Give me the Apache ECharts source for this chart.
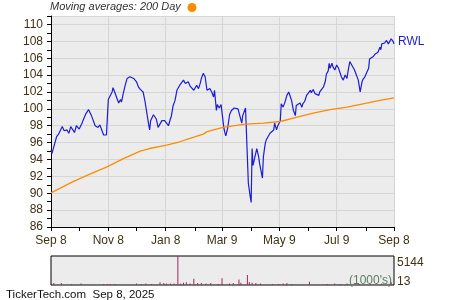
<!DOCTYPE html>
<html><head><meta charset="utf-8">
<script src="https://cdn.jsdelivr.net/npm/echarts@6/dist/echarts.min.js"></script>
<style>html,body{margin:0;padding:0;background:#fff}#c{width:450px;height:300px}</style>
</head><body><div id="c"></div>
<script>
// ---- data ----
const startDate = [2024, 8, 8]; // Sep 8, 2024 (first calendar day on axis)
const dayCount = 366;
const tickDates = ['2024-09-08','2024-10-08','2024-11-08','2024-12-08','2025-01-08','2025-02-08','2025-03-09','2025-04-09','2025-05-09','2025-06-09','2025-07-09','2025-08-09','2025-09-08'];
const labelDates = ['2024-09-08','2024-11-08','2025-01-08','2025-03-09','2025-05-09','2025-07-09','2025-09-08'];
const yTicks = {min: 86, max: 111, step: 2};

const priceDays = [0,1,4,6,8,10,12,14,17,19,21,23,25,27,30,33,34,37,38,40,43,45,47,49,50,52,54,56,57,59,
61,63,65,66,68,70,72,74,75,77,79,81,82,84,86,88,89,91,93,95,96,98,100,102,104,105,106,109,111,112,114,116,118,120,
121,123,125,127,128,130,132,134,136,137,139,141,143,144,146,148,150,152,153,155,157,159,160,162,164,166,167,169,171,
173,174,176,177,179,181,183,184,185,186,188,190,192,195,197,199,201,203,204,206,207,210,212,213,214,215,217,219,221,
222,223,225,226,228,229,231,233,235,237,238,240,241,244,245,247,249,251,253,254,256,258,260,261,263,265,267,268,270,
272,274,276,277,279,281,283,285,286,288,290,292,293,295,296,297,299,300,302,304,306,308,309,311,313,315,316,318,320,
322,323,325,327,329,331,332,334,336,338,339,341,343,345,347,348,350,351,352,354,355,357,359,361,362,364,365];
const priceValues = [95.1,94.7,95.9,96.7,97.0,97.0,97.9,97.4,97.5,97.1,97.9,97.7,97.2,98.0,97.6,98.3,98.6,99.4,99.5,99.9,99.2,98.6,98.0,98.2,97.8,98.1,97.5,96.9,97.0,96.9,
101.1,101.2,102.0,102.5,101.9,102.0,100.7,101.1,100.8,101.9,102.8,103.6,103.7,103.8,104.0,103.6,103.6,103.2,102.6,102.3,102.2,102.0,100.9,100.7,98.1,97.5,98.6,99.3,99.4,98.8,97.8,97.6,98.6,98.7,
98.6,98.5,98.0,98.8,99.1,100.4,101.0,102.2,102.4,102.8,103.0,103.4,103.0,102.9,103.2,102.7,102.9,102.2,102.3,102.8,102.4,103.1,103.6,104.2,103.8,102.2,102.0,102.4,102.0,
101.4,102.2,99.8,100.5,100.1,100.5,98.6,97.7,97.2,96.8,97.7,99.3,99.8,100.1,100.2,100.0,99.8,98.3,99.2,99.0,100.1,91.2,89.6,88.9,95.3,93.3,94.3,95.3,94.3,
93.5,93.7,91.8,94.3,95.9,96.3,96.5,97.1,97.2,97.5,98.3,97.5,97.9,98.6,100.6,100.2,100.8,101.6,102.0,102.0,101.0,99.8,99.2,100.4,100.2,100.7,100.2,100.6,100.9,
101.6,101.5,102.2,101.9,102.3,101.8,102.0,101.6,102.0,102.2,102.6,103.3,104.1,104.5,105.4,104.8,105.4,105.0,104.6,105.2,104.8,104.6,103.8,103.4,104.0,103.6,104.4,105.6,105.2,
105.0,104.6,104.5,103.4,102.0,103.2,103.5,103.8,104.0,104.8,105.9,106.1,106.2,106.5,106.5,106.7,107.3,107.0,107.7,107.9,107.8,108.1,107.7,107.9,108.3,108.0,107.7];

const maDays = [0,24,42,59,77,95,105,123,137,148,162,166,183,201,208,226,244,261,279,297,315,332,350,365];
const maValues = [90.05,91.4,92.3,93.1,94.1,95.0,95.3,95.7,96.1,96.5,97.0,97.3,97.8,98.1,98.2,98.3,98.5,99.0,99.5,99.9,100.2,100.6,101.0,101.3];

const volDays = [3,11,22,32,56,60,63,68,91,96,101,107,116,120,123,127,131,135,138,141,144,148,152,156,160,165,170,178,182,190,194,200,202,209,211,214,218,223,236,242,247,251,256,275,294,302,308,315,328,340,352,362];
const volValues = [350,350,200,300,180,200,200,180,300,200,300,200,500,350,300,300,300,5144,300,400,500,300,1100,350,350,300,350,200,1200,300,350,1000,400,1800,550,400,350,300,200,200,300,350,200,600,200,300,200,300,200,200,300,500];
const volTickLabels = ['5144', '13'];
const volRange = [13, 5144];

const tickerName = 'RWL';
const titleText = 'Moving averages: 200 Day';
const footerText = 'TickerTech.com  Sep 8, 2025';
const unitText = "(1000's)";

// ---- build ----
const MONTHS = ['Jan','Feb','Mar','Apr','May','Jun','Jul','Aug','Sep','Oct','Nov','Dec'];
const t0 = Date.UTC(startDate[0], startDate[1], startDate[2]);
const cats = [];
for (let i = 0; i < dayCount; i++) {
  const d = new Date(t0 + i * 86400000);
  cats.push(d.getUTCFullYear() + '-' + String(d.getUTCMonth() + 1).padStart(2, '0') + '-' + String(d.getUTCDate()).padStart(2, '0'));
}
const tickSet = new Set(tickDates);
const labelSet = new Set(labelDates);
const fmt = s => MONTHS[+s.slice(5, 7) - 1] + ' ' + (+s.slice(8, 10));

const priceData = priceDays.map((d, i) => [d, priceValues[i]]);
const maData = maDays.map((d, i) => [d, maValues[i]]);
const volData = volDays.map((d, i) => [d, volValues[i]]);

const FONT = '"Liberation Sans", Arial, sans-serif';
const LABEL = '#3f3217';
const BG = '#ececec';
const GRIDC = '#d6d6d6';

const chart = echarts.init(document.getElementById('c'), null, {renderer: 'canvas'});
chart.setOption({
  animation: false,
  textStyle: {fontFamily: FONT},
  grid: [
    {left: 51, right: 56, top: 16, bottom: 73, show: true, backgroundColor: BG, borderWidth: 0},
    {left: 51, right: 56, top: 256, bottom: 15, show: true, backgroundColor: BG, borderColor: '#000', borderWidth: 1}
  ],
  xAxis: [
    {
      type: 'category', gridIndex: 0, data: cats, boundaryGap: false,
      axisLine: {lineStyle: {color: '#000', width: 1}},
      axisTick: {show: true, length: 4, lineStyle: {color: '#000'}, interval: (i, v) => tickSet.has(v)},
      axisLabel: {interval: (i, v) => labelSet.has(v), formatter: fmt, color: LABEL, fontSize: 12, margin: 8, fontFamily: FONT},
      splitLine: {show: true, interval: (i, v) => labelSet.has(v) && i > 0, lineStyle: {color: GRIDC, width: 1}}
    },
    {
      type: 'category', gridIndex: 1, data: cats, boundaryGap: false,
      axisLine: {show: false}, axisTick: {show: false}, axisLabel: {show: false}, splitLine: {show: false}
    }
  ],
  yAxis: [
    {
      type: 'value', gridIndex: 0, min: yTicks.min, max: yTicks.max, interval: yTicks.step,
      axisLine: {show: true, lineStyle: {color: '#000', width: 1}},
      axisTick: {show: true, length: 4, lineStyle: {color: '#000'}},
      minorTick: {show: true, splitNumber: 2, length: 4, lineStyle: {color: '#000'}},
      axisLabel: {color: LABEL, fontSize: 12, margin: 8, showMaxLabel: false, fontFamily: FONT},
      splitLine: {show: true, lineStyle: {color: GRIDC, width: 1}}
    },
    {
      type: 'value', gridIndex: 1, min: volRange[0], max: volRange[1],
      axisLine: {show: false}, axisTick: {show: false}, axisLabel: {show: false}, splitLine: {show: false}
    }
  ],
  series: [
    {type: 'bar', xAxisIndex: 1, yAxisIndex: 1, data: volData, barWidth: 1, itemStyle: {color: '#9e2a5c'}, clip: true},
    {type: 'line', xAxisIndex: 0, yAxisIndex: 0, data: priceData, showSymbol: false, lineStyle: {color: '#1c1cd9', width: 1.2}, z: 3},
    {type: 'line', xAxisIndex: 0, yAxisIndex: 0, data: maData, showSymbol: false, lineStyle: {color: '#ff8c00', width: 1.3}, z: 4}
  ],
  graphic: [
    {type: 'text', left: 50, top: 1, style: {text: titleText, font: 'italic 11px ' + FONT, fill: '#333'}},
    {type: 'circle', shape: {cx: 192, cy: 7.5, r: 4.5}, style: {fill: '#ff8c00'}},
    {type: 'text', x: 398, y: 42, style: {text: tickerName, font: '12px ' + FONT, fill: '#1c1cd9', verticalAlign: 'middle'}},
    {type: 'text', x: 397, y: 263, style: {text: volTickLabels[0], font: '12px ' + FONT, fill: LABEL, verticalAlign: 'middle'}},
    {type: 'text', x: 397, y: 282, style: {text: volTickLabels[1], font: '12px ' + FONT, fill: LABEL, verticalAlign: 'middle'}},
    {type: 'text', x: 392, y: 281, style: {text: unitText, font: '12px ' + FONT, fill: '#5d7d62', align: 'right', verticalAlign: 'middle'}},
    {type: 'text', x: 6, y: 295, style: {text: footerText, font: '11.5px ' + FONT, fill: '#111', verticalAlign: 'middle'}}
  ]
});
</script></body></html>
